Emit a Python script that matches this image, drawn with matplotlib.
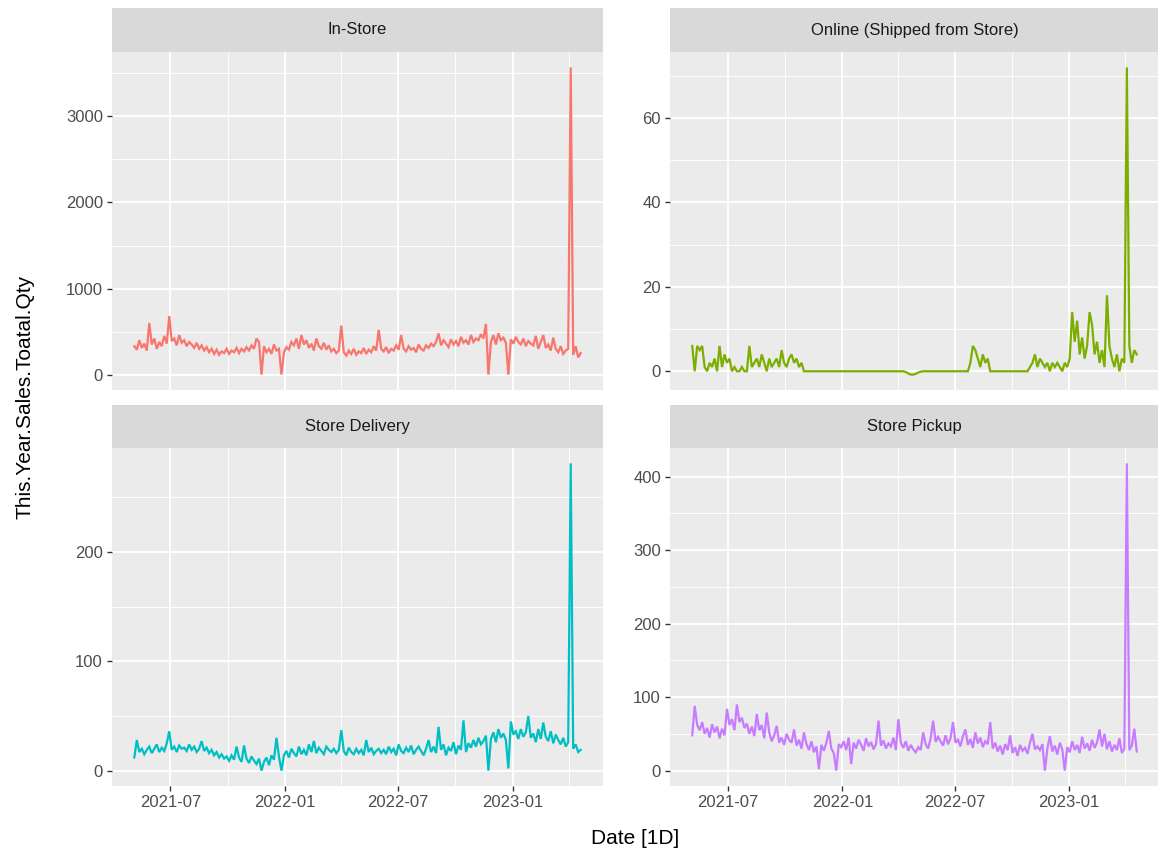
import matplotlib

matplotlib.use("Agg")
import matplotlib.dates as mdates
import matplotlib.pyplot as plt
import pandas as pd
from matplotlib.ticker import FixedLocator

plt.rcParams["font.family"] = ["Liberation Sans", "DejaVu Sans"]

# sales quantity per channel, one reading every 4 days
dates = pd.date_range("2021-05-04", periods=180, freq="4D")

in_store = [
    330, 290, 400, 310, 360, 280, 600, 350, 420, 300, 380, 330, 450, 360, 680, 390, 420, 340, 460, 370,
    400, 330, 380, 350, 310, 370, 300, 340, 280, 320, 260, 300, 240, 290, 230, 270, 250, 300, 240, 280,
    260, 310, 250, 300, 270, 320, 280, 340, 300, 420, 380, 0, 330, 260, 300, 240, 350, 280, 300, 0,
    260, 320, 290, 380, 340, 420, 300, 460, 350, 400, 310, 360, 280, 420, 330, 300, 370, 290, 340, 270,
    300, 250, 280, 570, 260, 220, 280, 240, 300, 230, 270, 250, 310, 240, 290, 260, 330, 280, 520, 300,
    270, 320, 250, 300, 280, 340, 290, 460, 300, 270, 330, 290, 310, 260, 350, 300, 280, 340, 310, 360,
    330, 380, 480, 340, 400, 360, 320, 410, 350, 390, 330, 440, 370, 400, 350, 460, 380, 420, 400, 470,
    420, 590, 0, 380, 460, 350, 480, 400, 430, 370, 0, 410, 360, 440, 380, 350, 420, 330, 390, 360,
    340, 450, 300, 380, 460, 310, 350, 280, 430, 300, 260, 330, 240, 280, 300, 3570, 230, 330, 200, 250,
]

online = [
    6, 0, 6, 5, 6, 1, 0, 2, 1, 3, 0, 6, 1, 4, 2, 3, 0, 1, 0, 0,
    1, 0, 0, 6, 1, 2, 3, 1, 4, 2, 0, 3, 1, 2, 3, 1, 5, 2, 1, 3,
    4, 2, 3, 1, 2, 0, 0, 0, 0, 0, 0, 0, 0, 0, 0, 0, 0, 0, 0, 0,
    0, 0, 0, 0, 0, 0, 0, 0, 0, 0, 0, 0, 0, 0, 0, 0, 0, 0, 0, 0,
    0, 0, 0, 0, 0, 0, -0.2, -0.5, -0.8, -0.8, -0.6, -0.3, -0.1, 0, 0, 0, 0, 0, 0, 0,
    0, 0, 0, 0, 0, 0, 0, 0, 0, 0, 0, 0, 2, 6, 5, 3, 1, 4, 2, 3,
    0, 0, 0, 0, 0, 0, 0, 0, 0, 0, 0, 0, 0, 0, 0, 0, 1, 2, 4, 1,
    3, 2, 1, 2, 0, 2, 1, 2, 1, 0, 2, 1, 3, 14, 7, 12, 4, 8, 3, 6,
    14, 11, 4, 7, 2, 5, 1, 18, 6, 3, 1, 4, 0, 3, 2, 72, 6, 2, 5, 4,
]

delivery = [
    12, 28, 17, 20, 15, 19, 22, 16, 20, 24, 17, 21, 18, 25, 36, 19, 22, 17, 23, 20,
    21, 18, 24, 19, 22, 17, 20, 27, 18, 21, 16, 19, 14, 17, 12, 15, 11, 13, 9, 14,
    10, 22, 12, 8, 23, 11, 7, 13, 9, 6, 11, 0, 8, 12, 5, 14, 10, 30, 13, 0,
    14, 18, 12, 20, 16, 13, 22, 15, 19, 14, 24, 17, 27, 16, 21, 18, 15, 22, 19, 17,
    20, 16, 19, 37, 18, 14, 21, 17, 15, 20, 16, 19, 14, 28, 17, 21, 15, 18, 20, 16,
    19, 15, 22, 17, 20, 14, 24, 18, 16, 21, 17, 23, 15, 19, 22, 18, 14, 20, 28, 17,
    22, 16, 40, 19, 24, 14, 21, 18, 26, 15, 23, 19, 46, 17, 25, 21, 28, 22, 30, 24,
    27, 32, 0, 29, 35, 26, 38, 30, 34, 28, 2, 45, 33, 36, 29, 38, 31, 35, 50, 30,
    34, 26, 38, 29, 44, 31, 27, 36, 25, 33, 28, 24, 30, 22, 26, 281, 20, 24, 17, 19,
]

pickup = [
    48, 88, 62, 55, 66, 50, 58, 45, 63, 52, 60, 44, 57, 48, 84, 62, 70, 55, 90, 66,
    72, 58, 64, 50, 60, 47, 77, 55, 62, 44, 79, 52, 40, 48, 61, 38, 45, 35, 50, 42,
    38, 56, 34, 42, 30, 52, 36, 28, 40, 25, 33, 2, 35, 27, 38, 54, 30, 24, 0, 36,
    32, 40, 28, 45, 9, 38, 30, 42, 35, 27, 44, 33, 39, 29, 36, 68, 34, 41, 30, 37,
    33, 45, 28, 70, 38, 31, 40, 27, 35, 29, 25, 32, 28, 52, 36, 30, 44, 68, 39, 46,
    40, 34, 48, 36, 44, 66, 38, 42, 33, 47, 56, 35, 43, 31, 52, 37, 45, 32, 40, 36,
    66, 30, 38, 26, 34, 22, 36, 28, 48, 24, 32, 20, 35, 27, 31, 23, 38, 50, 29, 33,
    28, 36, 0, 30, 47, 26, 34, 22, 38, 29, 0, 32, 25, 40, 28, 35, 24, 46, 30, 37,
    27, 42, 31, 38, 56, 33, 50, 29, 40, 26, 35, 28, 44, 24, 30, 418, 28, 34, 57, 26,
]

panel_titles = ["In-Store", "Online (Shipped from Store)", "Store Delivery", "Store Pickup"]
line_colors = ["#F8766D", "#7CAE00", "#00BFC4", "#C77CFF"]
y_major = [[0, 1000, 2000, 3000], [0, 20, 40, 60], [0, 100, 200], [0, 100, 200, 300, 400]]
y_minor = [[500, 1500, 2500, 3500], [10, 30, 50, 70], [50, 150, 250], [50, 150, 250, 350]]
x_major = pd.to_datetime(["2021-07-01", "2022-01-01", "2022-07-01", "2023-01-01"])
x_minor = pd.to_datetime(["2021-10-01", "2022-04-01", "2022-10-01", "2023-04-01"])

W, H = 1158, 859


def px_rect(left, top, right, bottom):
    """Convert a pixel box (origin top-left) to a figure rect."""
    return [left / W, 1 - bottom / H, (right - left) / W, (bottom - top) / H]


panel_boxes = [(112, 52, 603, 390), (670, 52, 1159, 390), (112, 448, 603, 786), (670, 448, 1159, 786)]
strip_boxes = [(112, 8, 603, 52), (670, 8, 1159, 52), (112, 405, 603, 448), (670, 405, 1159, 448)]

fig = plt.figure(figsize=(W / 100, H / 100), dpi=100)
series = [in_store, online, delivery, pickup]

first_ax = None
for i, values in enumerate(series):
    ax = fig.add_axes(px_rect(*panel_boxes[i]), sharex=first_ax)
    if first_ax is None:
        first_ax = ax
    ax.set_facecolor("#EBEBEB")
    ax.plot(dates, values, color=line_colors[i], lw=1.6, solid_joinstyle="miter")
    ax.margins(x=0.05, y=0.05)

    ax.yaxis.set_major_locator(FixedLocator(y_major[i]))
    ax.yaxis.set_minor_locator(FixedLocator(y_minor[i]))
    ax.xaxis.set_major_locator(FixedLocator(mdates.date2num(x_major)))
    ax.xaxis.set_minor_locator(FixedLocator(mdates.date2num(x_minor)))
    ax.xaxis.set_major_formatter(mdates.DateFormatter("%Y-%m"))

    ax.grid(which="major", color="white", lw=1.3)
    ax.grid(which="minor", color="white", lw=0.65)
    ax.set_axisbelow(True)
    for spine in ax.spines.values():
        spine.set_visible(False)

    ax.tick_params(which="major", length=3.5, width=1.0, color="#333333",
                   labelcolor="#4D4D4D", labelsize=12, pad=3)
    ax.tick_params(which="minor", length=0)
    if i < 2:
        ax.tick_params(axis="x", which="both", bottom=False, labelbottom=False)

    strip = fig.add_axes(px_rect(*strip_boxes[i]))
    strip.set_facecolor("#D9D9D9")
    strip.set_xticks([])
    strip.set_yticks([])
    for spine in strip.spines.values():
        spine.set_visible(False)
    strip.text(0.5, 0.5, panel_titles[i], ha="center", va="center",
               fontsize=12, color="#1A1A1A", transform=strip.transAxes)

fig.text(25 / W, 1 - 397 / H, "This.Year.Sales.Toatal.Qty", rotation=90,
         ha="center", va="center", fontsize=15, color="black")
fig.text(635 / W, 1 - 838 / H, "Date [1D]", ha="center", va="center",
         fontsize=15, color="black")

fig.savefig("out.png", dpi=100, facecolor="white")
plt.close(fig)
